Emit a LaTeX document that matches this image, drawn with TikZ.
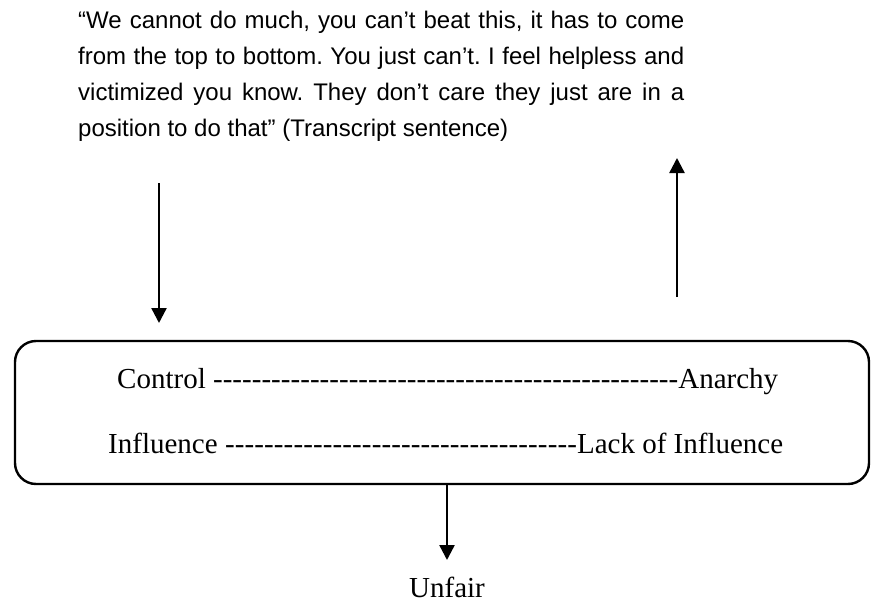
\documentclass[tikz,border=0pt]{standalone}
\usepackage{fontspec}
\setmainfont{Liberation Serif}
\newfontfamily\quotefont{Liberation Sans}
\usepackage{tikz}
\usetikzlibrary{arrows.meta,positioning}

\begin{document}
\begin{tikzpicture}[x=1pt,y=-1pt,>=Triangle,
  flow/.style={line width=2.4pt,-{Triangle[length=15pt,width=15pt]}},
  scaleline/.style={anchor=base west,inner sep=0pt,font=\fontsize{29}{34}\selectfont}]
\useasboundingbox (0,0) rectangle (871,605);
\node[anchor=north west,inner sep=0pt,text width=606pt,align=justify,font=\quotefont\fontsize{24}{36}\selectfont\frenchspacing] (quote) at (78,11) {“We cannot do much, you can’t beat this, it has to come\linebreak from the top to bottom. You just can’t. I feel helpless and\linebreak victimized you know. They don’t care they just are in a\linebreak position to do that” (Transcript sentence)};
\node[draw,line width=2.4pt,rounded corners=21pt,minimum width=854pt,minimum height=143pt,inner sep=0pt] (box) at (442,412.5) {};
\node[scaleline] (ctl) at (117,388) {\hbox to 661pt{Control \xleaders\hbox{-}\hfill Anarchy}};
\node[scaleline] (inf) at (108,453) {\hbox to 675pt{Influence \xleaders\hbox{-}\hfill Lack of Influence}};
\coordinate (inTop) at (159,183);
\coordinate (inTip) at (159,323);
\coordinate (outFoot) at (677,297);
\coordinate (outTip) at (677,158);
\coordinate (boxFoot) at (box.south -| 447,0);
\coordinate (unfairTip) at (447,560);
\node[anchor=base,inner sep=0pt,font=\fontsize{29}{34}\selectfont] (unfair) at (447,597) {Unfair};
\draw[flow] (inTop)--(inTip);
\draw[flow] (outFoot)--(outTip);
\draw[flow] (boxFoot)--(unfairTip);
\end{tikzpicture}
\end{document}
